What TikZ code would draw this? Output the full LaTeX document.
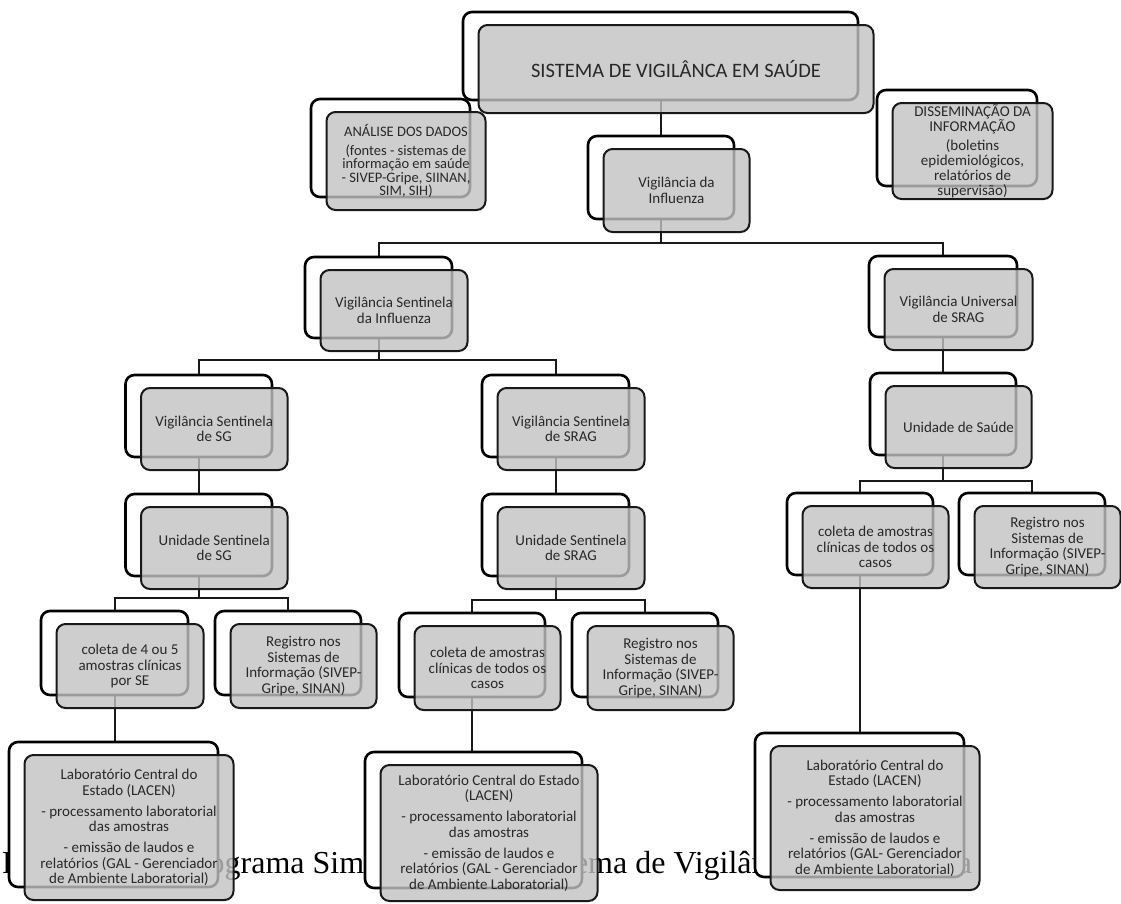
\documentclass[tikz,border=0pt]{standalone}
\usepackage{fontspec}
\setmainfont{Carlito}
\newfontfamily\capfont{Liberation Serif}
\usetikzlibrary{backgrounds}
\definecolor{boxgray}{RGB}{194,194,194}
\definecolor{txt}{RGB}{40,40,40}
\tikzset{
 backbox/.style={rectangle, draw=black, line width=2.6pt, fill=white, rounded corners=9pt, inner sep=0pt},
 frontbox/.style={rectangle, draw=black!90, line width=2pt, fill=boxgray, fill opacity=0.8, draw opacity=1, text opacity=1, rounded corners=9pt, inner sep=0pt, align=center, text=txt, font=\fontsize{15}{15.5}\selectfont},
 conn/.style={draw=black!90, line width=2pt},
 captext/.style={inner sep=0pt, anchor=base west, font=\capfont\fontsize{32}{38}\selectfont},
}
\newcommand\pair[7][]{%
 \node[backbox, minimum width={#5-#3}, minimum height={#6-#4}] (b#2) at ({(#3+#5)/2},{(#4+#6)/2}) {};
 \node[frontbox, minimum width={#5-#3}, minimum height={#6-#4}, #1] (f#2) at ({(#3+#5)/2+15.5},{(#4+#6)/2+13}) {#7};
}
\begin{document}
\begin{tikzpicture}[x=1pt, y=-1pt]
\useasboundingbox (0,0) rectangle (1121,903);
\begin{scope}[on background layer]
\fill[white] (0,0) rectangle (1121,903);
\end{scope}
% caption (partly hidden by the boxes)
\node[captext] (cap) at (2,873) {Figura 1: Organograma Simplificado do Sistema de Vigilância da Influenza};
% boxes
\pair[font=\fontsize{20.5}{24}\selectfont]{top}{463}{12}{858}{100}{SISTEMA DE VIGILÂNCA EM SAÚDE}
\pair[font=\fontsize{14.5}{13.5}\selectfont]{an}{311}{99}{470}{197}{ANÁLISE DOS DADOS\\[5pt](fontes - sistemas de\\informação em saúde\\- SIVEP-Gripe, SIINAN,\\SIM, SIH)}
\pair[font=\fontsize{15}{15}\selectfont]{dis}{877}{90}{1037}{186}{DISSEMINAÇÃO DA\\INFORMAÇÃO\\[4pt](boletins\\epidemiológicos,\\relatórios de\\supervisão)}
\pair{inf}{588}{136}{734}{219}{Vigilância da\\Influenza}
\pair{vsi}{305}{257}{452}{338}{Vigilância Sentinela\\da Influenza}
\pair{vu}{869}{256}{1017}{337}{Vigilância Universal\\de SRAG}
\pair{sg}{125.5}{375}{272}{457}{Vigilância Sentinela\\de SG}
\pair{usg}{125.5}{494}{272}{576}{Unidade Sentinela\\de SG}
\pair{sr}{482}{375}{629}{457}{Vigilância Sentinela\\de SRAG}
\pair{usr}{482}{494}{629}{576}{Unidade Sentinela\\de SRAG}
\pair{us}{870}{373}{1016}{455}{Unidade de Saúde}
\pair{csg}{41}{611}{188}{695}{coleta de 4 ou 5\\amostras clínicas\\por SE}
\pair{rsg}{215}{611}{361}{695}{Registro nos\\Sistemas de\\Informação (SIVEP-\\Gripe, SINAN)}
\pair{csr}{399}{613}{545}{697}{coleta de amostras\\clínicas de todos os\\casos}
\pair{rsr}{572}{613}{718}{697}{Registro nos\\Sistemas de\\Informação (SIVEP-\\Gripe, SINAN)}
\pair{cr}{787}{493}{933}{575}{coleta de amostras\\clínicas de todos os\\casos}
\pair{rr}{959}{493}{1105}{575}{Registro nos\\Sistemas de\\Informação (SIVEP-\\Gripe, SINAN)}
\pair{lsg}{9}{742}{218}{887}{Laboratório Central do\\Estado (LACEN)\\[5.5pt]- processamento laboratorial\\das amostras\\[5.5pt]- emissão de laudos e\\relatórios (GAL - Gerenciador\\de Ambiente Laboratorial)}
\pair{lsr}{365}{752}{582}{888}{Laboratório Central do Estado\\(LACEN)\\[5.5pt]- processamento laboratorial\\das amostras\\[5.5pt]- emissão de laudos e\\relatórios (GAL - Gerenciador\\de Ambiente Laboratorial)}
\pair{lr}{755}{733}{964}{877}{Laboratório Central do\\Estado (LACEN)\\[5.5pt]- processamento laboratorial\\das amostras\\[5.5pt]- emissão de laudos e\\relatórios (GAL- Gerenciador\\de Ambiente Laboratorial)}
% connectors
\coordinate (j1) at (661,243);
\coordinate (j2) at (378.5,360);
\coordinate (j3) at (198.75,598);
\coordinate (j4) at (555.5,600);
\coordinate (j5) at (943,481);
\begin{scope}[on background layer]
\draw[conn] (binf.north |- btop.south) -- (binf.north);
\draw[conn] (binf.south) -- (j1);
\draw[conn] (bvsi.north) |- (j1) -| (bvu.north);
\draw[conn] (bvsi.south) -- (j2);
\draw[conn] (bsg.north) |- (j2) -| (bsr.north);
\draw[conn] (bsg.south) -- (bsg.south |- busg.north);
\draw[conn] (bsr.south) -- (bsr.south |- busr.north);
\draw[conn] (bvu.south) -- (bvu.south |- bus.north);
\draw[conn] (busg.south) -- (j3);
\draw[conn] (bcsg.north) |- (j3) -| (brsg.north);
\draw[conn] (busr.south) -- (j4);
\draw[conn] (bcsr.north) |- (j4) -| (brsr.north);
\draw[conn] (bus.south) -- (j5);
\draw[conn] (bcr.north) |- (j5) -| (brr.north);
\draw[conn] (bcsg.south) -- (bcsg.south |- blsg.north);
\draw[conn] (bcsr.south) -- (bcsr.south |- blsr.north);
\draw[conn] (bcr.south) -- (bcr.south |- blr.north);
\end{scope}
\end{tikzpicture}
\end{document}
